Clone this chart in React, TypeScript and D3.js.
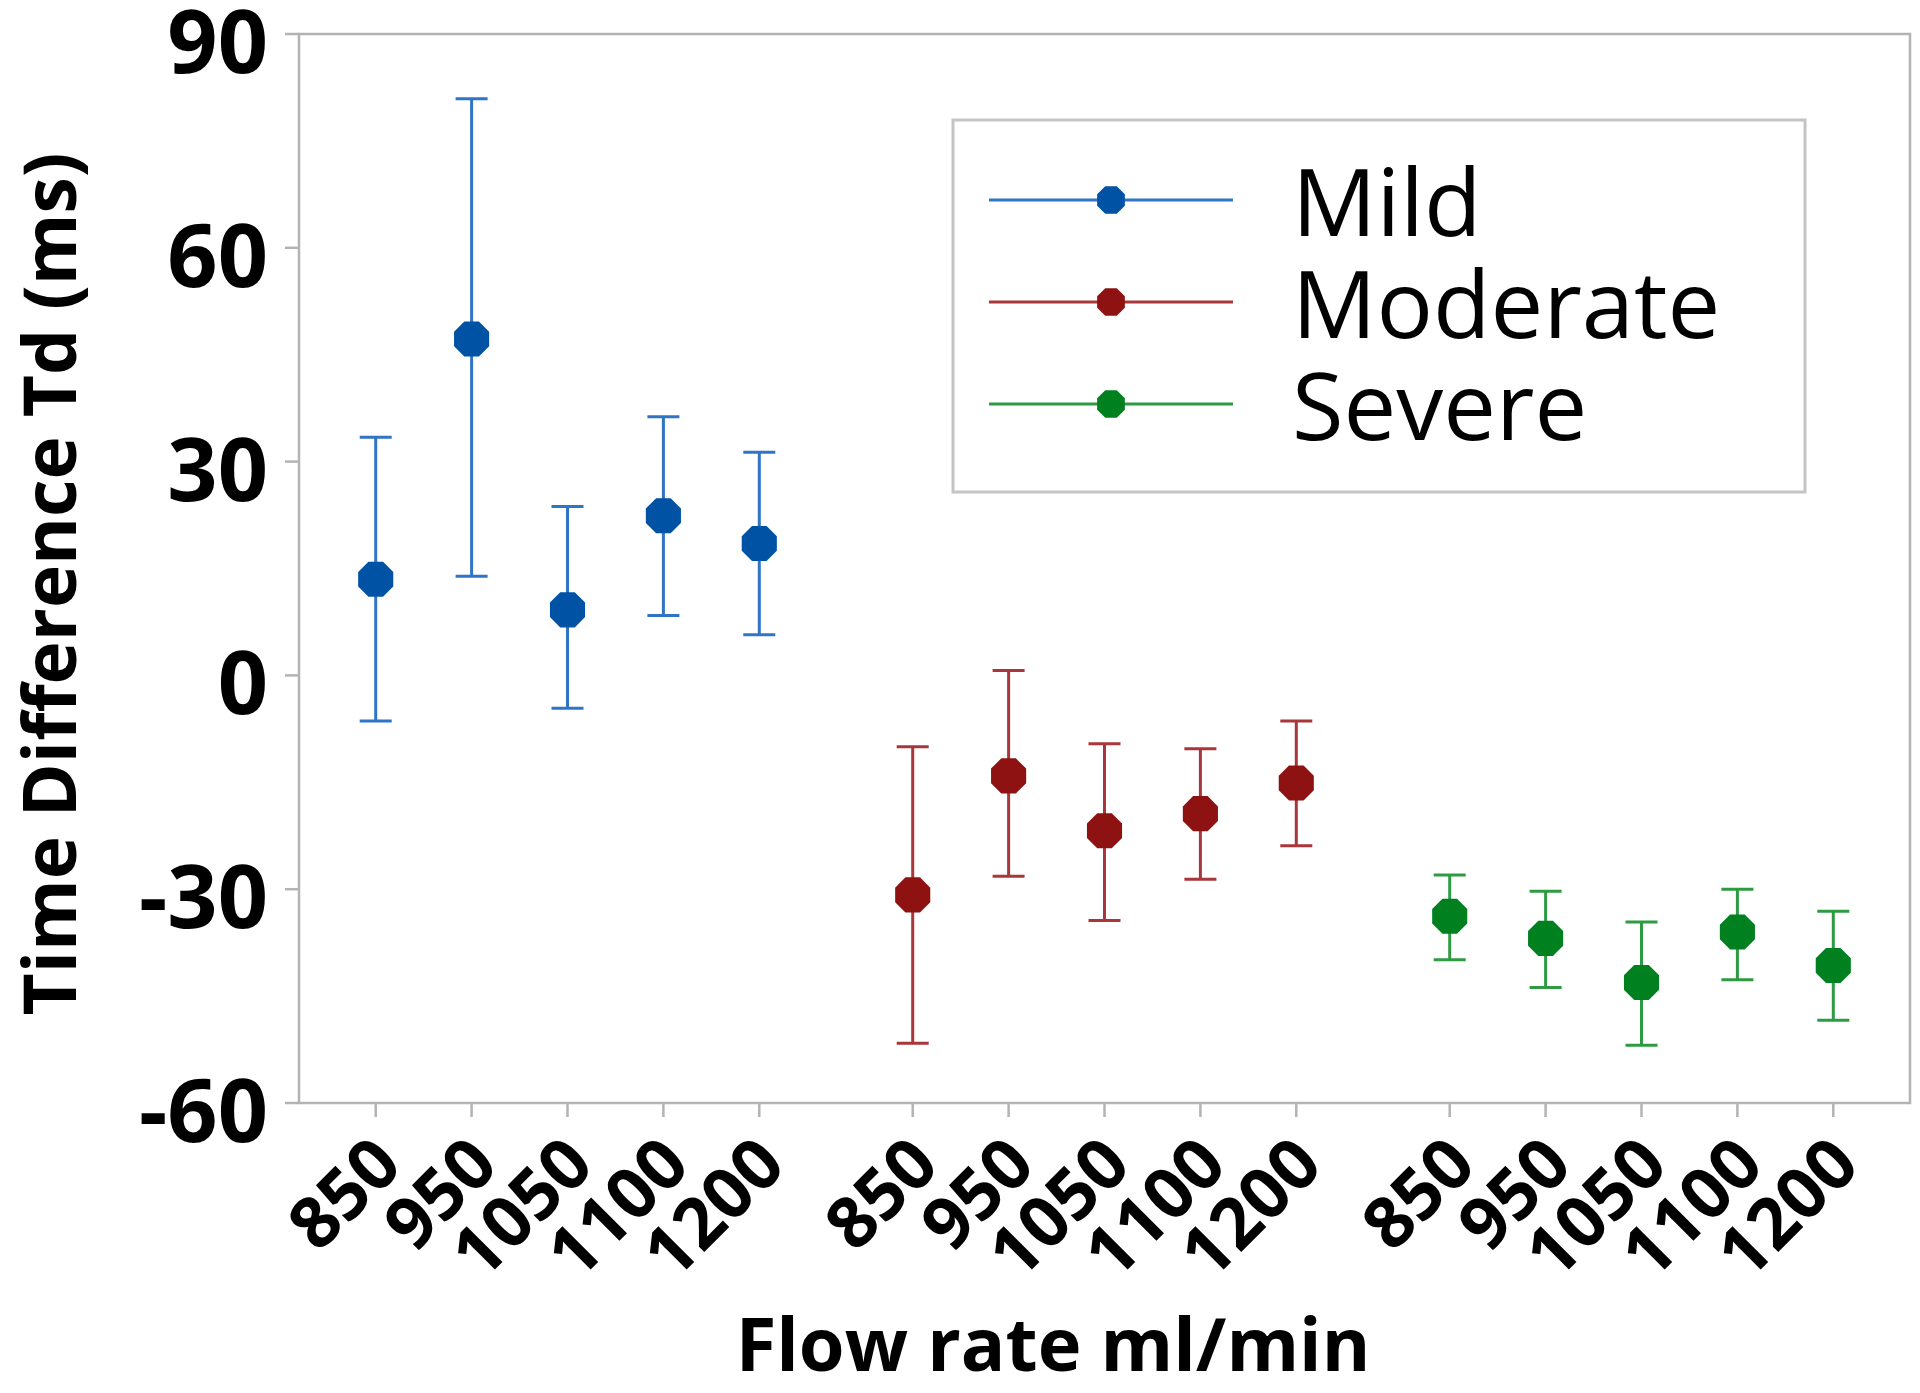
import React from "react";
import * as d3 from "d3";

const flowRates = ["850", "950", "1050", "1100", "1200"];
const severities = ["Mild", "Moderate", "Severe"];

const mildMean = [13.5, 47.2, 9.2, 22.4, 18.5];
const mildLower = [-6.4, 13.9, -4.6, 8.4, 5.7];
const mildUpper = [33.4, 80.9, 23.7, 36.3, 31.3];

const moderateMean = [-30.8, -14.1, -21.8, -19.4, -15.1];
const moderateLower = [-51.6, -28.2, -34.4, -28.6, -23.9];
const moderateUpper = [-10.0, 0.7, -9.6, -10.3, -6.4];

const severeMean = [-33.8, -36.9, -43.1, -36.0, -40.7];
const severeLower = [-39.9, -43.8, -51.9, -42.7, -48.4];
const severeUpper = [-28.0, -30.3, -34.6, -30.0, -33.1];

const yTicks = [90, 60, 30, 0, -30, -60];

const markerColors = ["#0052a5", "#8e1212", "#00801f"];
const barColors = ["#2f74c5", "#a8363a", "#2e9a42"];

const groups = [
  { name: severities[0], mean: mildMean, lower: mildLower, upper: mildUpper },
  { name: severities[1], mean: moderateMean, lower: moderateLower, upper: moderateUpper },
  { name: severities[2], mean: severeMean, lower: severeLower, upper: severeUpper },
];

const FONT = "'Open Sans', 'DejaVu Sans', sans-serif";

function octagon(cx: number, cy: number, r: number) {
  const pts: [number, number][] = [];
  for (let k = 0; k < 8; k++) {
    const a = ((22.5 + k * 45) * Math.PI) / 180;
    pts.push([cx + r * Math.cos(a), cy + r * Math.sin(a)]);
  }
  return d3.line()(pts) + "Z";
}

export default function App() {
  const left = 299, right = 1910, top = 34, bottom = 1103;
  const x = d3.scaleLinear().domain([0, 16.8]).range([left, right]);
  const y = d3.scaleLinear().domain([-60, 90]).range([bottom, top]);
  const pos = (g: number, i: number) => x(0.8 + g * 5.6 + i);
  const frameColor = "#b3b3b3";

  return (
    <svg width={1920} height={1393} style={{ position: "absolute", left: 0, top: 0, background: "#fff" }}>
      <rect x={0} y={0} width={1920} height={1393} fill="#fff" />
      {/* frame */}
      <rect x={left} y={top} width={right - left} height={bottom - top} fill="none" stroke={frameColor} strokeWidth={2.5} />
      {/* y ticks */}
      {yTicks.map((t) => (
        <g key={"yt" + t}>
          <line x1={left - 14} x2={left} y1={y(t)} y2={y(t)} stroke={frameColor} strokeWidth={2.5} />
          <text x={268} y={y(t) + 39} textAnchor="end" fontFamily={FONT} fontWeight={700} fontSize={88} fill="#000">
            {t}
          </text>
        </g>
      ))}
      {/* x ticks */}
      {groups.map((g, gi) =>
        flowRates.map((fr, i) => {
          const px = pos(gi, i);
          return (
            <g key={"xt" + gi + "-" + i}>
              <line x1={px} x2={px} y1={bottom} y2={bottom + 14} stroke={frameColor} strokeWidth={2.5} />
              <text
                transform={`translate(${px - 14},${bottom + 22}) rotate(-45)`}
                textAnchor="end"
                dominantBaseline="hanging"
                fontFamily={FONT}
                fontWeight={700}
                fontSize={71}
                fill="#000"
              >
                {fr}
              </text>
            </g>
          );
        })
      )}
      {/* error bars and markers */}
      {groups.map((g, gi) =>
        g.mean.map((m, i) => {
          const px = pos(gi, i);
          const cw = 16;
          return (
            <g key={"eb" + gi + "-" + i}>
              <line x1={px} x2={px} y1={y(g.upper[i])} y2={y(g.lower[i])} stroke={barColors[gi]} strokeWidth={3} />
              <line x1={px - cw} x2={px + cw} y1={y(g.upper[i])} y2={y(g.upper[i])} stroke={barColors[gi]} strokeWidth={3} />
              <line x1={px - cw} x2={px + cw} y1={y(g.lower[i])} y2={y(g.lower[i])} stroke={barColors[gi]} strokeWidth={3} />
              <path d={octagon(px, y(m), 19)} fill={markerColors[gi]} />
            </g>
          );
        })
      )}
      {/* legend */}
      <rect x={953} y={120} width={852} height={372} fill="#fff" stroke="#c4c4c4" strokeWidth={3} />
      {groups.map((g, gi) => {
        const cy = 200 + gi * 102;
        return (
          <g key={"lg" + gi}>
            <line x1={989} x2={1233} y1={cy} y2={cy} stroke={barColors[gi]} strokeWidth={3} />
            <path d={octagon(1111, cy, 15)} fill={markerColors[gi]} />
            <text x={1292} y={cy + 36} fontFamily={FONT} fontSize={94} fill="#000">
              {g.name}
            </text>
          </g>
        );
      })}
      {/* axis titles */}
      <text x={1053} y={1371} textAnchor="middle" fontFamily={FONT} fontWeight={700} fontSize={74} fill="#000">
        Flow rate ml/min
      </text>
      <text
        transform={`translate(76,584) rotate(-90)`}
        textAnchor="middle"
        fontFamily={FONT}
        fontWeight={700}
        fontSize={73}
        fill="#000"
      >
        Time Difference Td (ms)
      </text>
    </svg>
  );
}
